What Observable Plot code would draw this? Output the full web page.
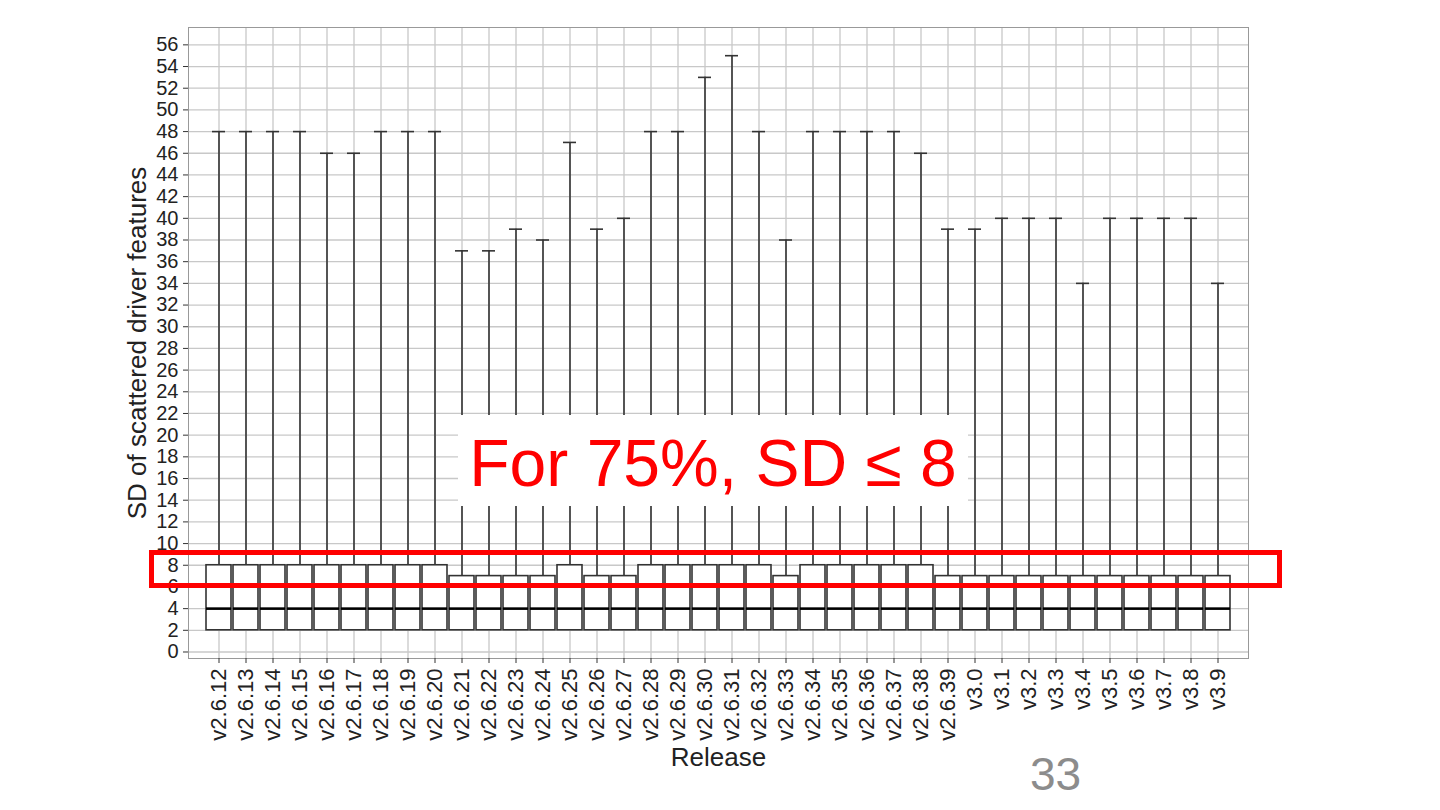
<!DOCTYPE html>
<html>
<head>
<meta charset="utf-8">
<script src="https://cdn.jsdelivr.net/npm/d3@7"></script>
<script src="https://cdn.jsdelivr.net/npm/@observablehq/plot@0.6"></script>
<style>
  html, body { margin: 0; padding: 0; background: #fff; }
  #wrap { position: relative; width: 1440px; height: 810px; overflow: hidden; font-family: "Liberation Sans", Arial, sans-serif; }
  #chart svg { display: block; }
  .redbox { position: absolute; box-sizing: border-box; border: 5px solid #ff0000; }
  .note { position: absolute; background: #fff; color: #ff0000; display: flex; align-items: center; justify-content: center; white-space: nowrap; }
  .page { position: absolute; color: #8c8c8c; line-height: 1; }
</style>
</head>
<body>
<div id="wrap">
  <div id="chart"></div>
  <div class="redbox" style="left:149px; top:550px; width:1133px; height:38px;"></div>
  <div class="note" style="left:458px; top:415px; width:510px; height:91px; font-size:66px; padding-top:4px; box-sizing:border-box;">For 75%, SD ≤ 8</div>
  <div class="page" style="left:1030px; top:751px; font-size:46px;">33</div>
</div>
<script>
const releases = [
  "v2.6.12","v2.6.13","v2.6.14","v2.6.15","v2.6.16","v2.6.17","v2.6.18","v2.6.19","v2.6.20",
  "v2.6.21","v2.6.22","v2.6.23","v2.6.24","v2.6.25","v2.6.26","v2.6.27","v2.6.28","v2.6.29",
  "v2.6.30","v2.6.31","v2.6.32","v2.6.33","v2.6.34","v2.6.35","v2.6.36","v2.6.37","v2.6.38",
  "v2.6.39","v3.0","v3.1","v3.2","v3.3","v3.4","v3.5","v3.6","v3.7","v3.8","v3.9"
];
const maxVals = [
  48,48,48,48,46,46,48,48,48,
  37,37,39,38,47,39,40,48,48,
  53,55,48,38,48,48,48,48,46,
  39,39,40,40,40,34,40,40,40,40,34
];
const q3Vals = [
  8,8,8,8,8,8,8,8,8,
  7,7,7,7,8,7,7,8,8,
  8,8,8,7,8,8,8,8,8,
  7,7,7,7,7,7,7,7,7,7,7
];
const medianVals = [
  4,4,4,4,4,4,4,4,4,
  4,4,4,4,4,4,4,4,4,
  4,4,4,4,4,4,4,4,4,
  4,4,4,4,4,4,4,4,4,4,4
];
const q1Vals = [
  2,2,2,2,2,2,2,2,2,
  2,2,2,2,2,2,2,2,2,
  2,2,2,2,2,2,2,2,2,
  2,2,2,2,2,2,2,2,2,2,2
];
const minVals = q1Vals.slice();
const yTicks = [0,2,4,6,8,10,12,14,16,18,20,22,24,26,28,30,32,34,36,38,40,42,44,46,48,50,52,54,56];
const xTitle = "Release";
const yTitle = "SD of scattered driver features";

const data = releases.map((r, i) => ({
  release: r, min: minVals[i], q1: q1Vals[i], median: medianVals[i], q3: q3Vals[i], max: maxVals[i]
}));

const chart = Plot.plot({
  width: 1440,
  height: 810,
  marginLeft: 188,
  marginRight: 192,
  marginTop: 27,
  marginBottom: 152,
  style: { fontFamily: "'Liberation Sans', Arial, sans-serif", background: "transparent", color: "#333", overflow: "visible" },
  x: { type: "band", domain: releases, paddingInner: 0, paddingOuter: 0.1, axis: null },
  y: { domain: [-0.6, 57.6], axis: null },
  marks: [
    Plot.gridY(yTicks, { stroke: "#c8c8c8", strokeOpacity: 1, strokeWidth: 1.3 }),
    Plot.gridX(releases, { stroke: "#c8c8c8", strokeOpacity: 1, strokeWidth: 1.3 }),
    Plot.ruleX(data, { x: "release", y1: "q3", y2: "max", stroke: "#333", strokeWidth: 1.6 }),
    Plot.ruleX(data, { x: "release", y1: "min", y2: "q1", stroke: "#333", strokeWidth: 1.6 }),
    Plot.tickY(data, { x: "release", y: "max", stroke: "#333", strokeWidth: 1.6, insetLeft: 7, insetRight: 7 }),
    Plot.barY(data, { x: "release", y1: "q1", y2: "q3", fill: "white", stroke: "#333", strokeWidth: 1.6, insetLeft: 1, insetRight: 1 }),
    Plot.tickY(data, { x: "release", y: "median", stroke: "#000", strokeWidth: 2.6, insetLeft: 1, insetRight: 1 }),
    Plot.frame({ stroke: "#999", strokeWidth: 1 }),
    Plot.axisY(yTicks, { tickSize: 5, tickPadding: 5, fontSize: 20, label: null, stroke: "#333", fill: "#222" }),
    Plot.axisX({ tickSize: 5, tickPadding: 5, tickRotate: -90, fontSize: 22, label: null, stroke: "#333", fill: "#222" }),
    Plot.text([xTitle], { frameAnchor: "bottom", dy: 99, lineAnchor: "middle", textAnchor: "middle", fontSize: 26, fill: "#222" }),
    Plot.text([yTitle], { frameAnchor: "left", rotate: -90, dx: -51, textAnchor: "middle", lineAnchor: "middle", fontSize: 26, fill: "#222" })
  ]
});
document.getElementById("chart").appendChild(chart);
</script>
</body>
</html>
